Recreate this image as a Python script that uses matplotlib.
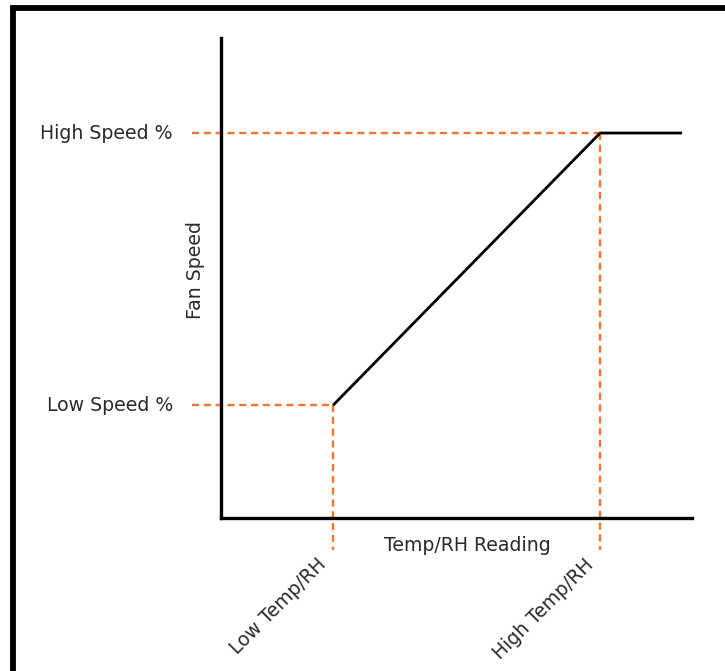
import matplotlib
matplotlib.use("Agg")
import matplotlib.pyplot as plt
from matplotlib.patches import Rectangle

# Data (curve breakpoints, in arbitrary 0-100 units)
x_points = [23.8, 80.5, 97.9]
y_points = [23.5, 80.2, 80.2]
x_tick_labels = ["Low Temp/RH", "High Temp/RH"]
y_tick_labels = ["Low Speed %", "High Speed %"]
x_label = "Temp/RH Reading"
y_label = "Fan Speed"

ORANGE = "#F8742E"
TXT = "#2a2a2a"
FONT = ["DejaVu Sans"]
plt.rcParams['font.family'] = FONT
FS = 13.6

W, H = 725, 671
fig = plt.figure(figsize=(W / 100, H / 100), dpi=100)
ax = fig.add_axes([221 / W, 1 - 518 / H, (692 - 221) / W, (518 - 38) / H])
ax.set_xlim(0, 100)
ax.set_ylim(0, 100)

# outer frame
fig.patches.append(Rectangle((13 / W, -0.2), 1.5, 1.2 - 8 / H, transform=fig.transFigure,
                             fill=False, edgecolor="black", linewidth=4.2, zorder=0))

for s in ["top", "right"]:
    ax.spines[s].set_visible(False)
for s in ["left", "bottom"]:
    ax.spines[s].set_linewidth(2.4)
    ax.spines[s].set_color("black")
    ax.spines[s].set_capstyle("projecting")
ax.set_xticks([])
ax.set_yticks([])

ax.plot(x_points, y_points, color="black", linewidth=2.0, solid_capstyle="butt", zorder=3)

ext_x = -6.2
ext_y = -6.7
dash = dict(color=ORANGE, linewidth=1.7, linestyle=(0, (3.0, 2.0)), clip_on=False, zorder=2)
for xv, yv in zip(x_points[:2], y_points[:2]):
    ax.plot([ext_x, xv], [yv, yv], **dash)
    ax.plot([xv, xv], [yv, ext_y], **dash)

# y tick labels
for lab, yv in zip(y_tick_labels, y_points[:2]):
    ax.annotate(lab, xy=(0, yv), xycoords=("axes fraction", "data"), xytext=(-48, 0),
                textcoords="offset pixels", ha="right", va="center", fontsize=FS, color=TXT)

# x tick labels (rotated)
for lab, xv in zip(x_tick_labels, x_points[:2]):
    ax.annotate(lab, xy=(xv, 0), xycoords=("data", "axes fraction"), xytext=(-3, -37),
                textcoords="offset pixels", ha="right", va="top", rotation=45,
                fontsize=FS, color=TXT)

ax.text(0.524, -0.057, x_label, transform=ax.transAxes, ha="center", va="center",
        fontsize=FS, color=TXT)
ax.text(-0.055, 0.516, y_label, transform=ax.transAxes, ha="center", va="center",
        rotation=90, fontsize=FS, color=TXT)

fig.savefig("out.png", dpi=100)
